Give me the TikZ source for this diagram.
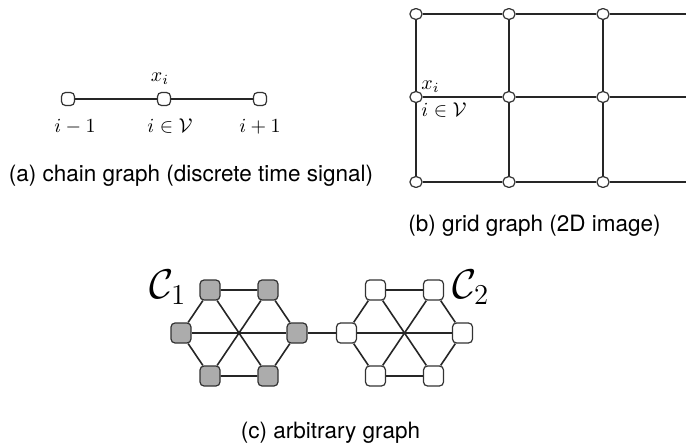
\documentclass[tikz,border=0pt]{standalone}
\usepackage[no-math]{fontspec}
\newfontfamily\capfont{TeX Gyre Heros}
\begin{document}
\begin{tikzpicture}[x=0.5pt,y=-0.5pt,
  edge/.style={line width=0.8pt, black!85},
  cnode/.style={draw=black!80, line width=0.6pt, fill=white, rounded corners=2pt, minimum width=6.5pt, minimum height=6.5pt, inner sep=0pt},
  gnode/.style={draw=black!80, line width=0.6pt, fill=white, rounded corners=2.5pt, minimum width=6pt, minimum height=5.2pt, inner sep=0pt},
  hnode/.style={draw=black!80, line width=0.6pt, rounded corners=2pt, minimum size=10pt, inner sep=0pt},
  conenode/.style={hnode, fill=gray!65},
  ctwonode/.style={hnode, fill=white},
  captext/.style={font=\capfont\fontsize{11.25}{13}\selectfont, anchor=base, inner sep=0pt},
  mlab/.style={inner sep=0pt, anchor=base, font=\fontsize{10}{12}\selectfont},
  biglab/.style={inner sep=0pt, anchor=base west, font=\fontsize{20.74}{24}\selectfont}
]
\useasboundingbox (0,0) rectangle (686,444);

% (a) chain graph
\node[cnode] (a1) at (68,99) {};
\node[cnode] (a2) at (164,99) {};
\node[cnode] (a3) at (260,99) {};
\draw[edge] (a1) -- (a2) -- (a3);
\node[mlab] (ax) at (160,82) {$x_i$};
\node[mlab] (al1) at (75,133) {$i-1$};
\node[mlab] (al2) at (170,133) {$i\in\mathcal{V}$};
\node[mlab] (al3) at (260,133) {$i+1$};
\node[captext] (capa) at (191,182) {(a) chain graph (discrete time signal)};

% (b) grid graph
\foreach \r/\y in {1/14,2/97,3/182}{
  \foreach \c/\x in {1/416,2/509,3/603}{
    \node[gnode] (g\r\c) at (\x,\y) {};
  }
  \coordinate (ge\r) at (686,\y);
}
\foreach \r in {1,2,3}{
  \draw[edge] (g\r1) -- (g\r2) -- (g\r3) -- (ge\r);
}
\foreach \c in {1,2,3}{
  \draw[edge] (g1\c) -- (g2\c) -- (g3\c);
}
\node[mlab, anchor=base west] (gx) at (421,90) {$x_i$};
\node[mlab, anchor=base west] (gv) at (421,117) {$i\in\mathcal{V}$};
\node[captext] (capb) at (534.5,232) {(b) grid graph (2D image)};

% (c) arbitrary graph
\foreach \k/\cx/\st in {1/239/conenode, 2/404.5/ctwonode}{
  \node[\st] (h\k tl) at (\cx-29,290) {};
  \node[\st] (h\k tr) at (\cx+29,290) {};
  \node[\st] (h\k l)  at (\cx-58,333) {};
  \node[\st] (h\k r)  at (\cx+58,333) {};
  \node[\st] (h\k bl) at (\cx-29,376) {};
  \node[\st] (h\k br) at (\cx+29,376) {};
  \draw[edge] (h\k tl) -- (h\k tr) -- (h\k r) -- (h\k br) -- (h\k bl) -- (h\k l) -- (h\k tl);
  \draw[edge] (h\k l) -- (h\k r);
  \draw[edge] (h\k tl) -- (h\k br);
  \draw[edge] (h\k tr) -- (h\k bl);
}
\draw[edge] (h1r) -- (h2l);
\node[biglab] (c1) at (149,298) {$\mathcal{C}_1$};
\node[biglab] (c2) at (452,298) {$\mathcal{C}_2$};
\node[captext] (capc) at (330.5,438) {(c) arbitrary graph};
\end{tikzpicture}
\end{document}
